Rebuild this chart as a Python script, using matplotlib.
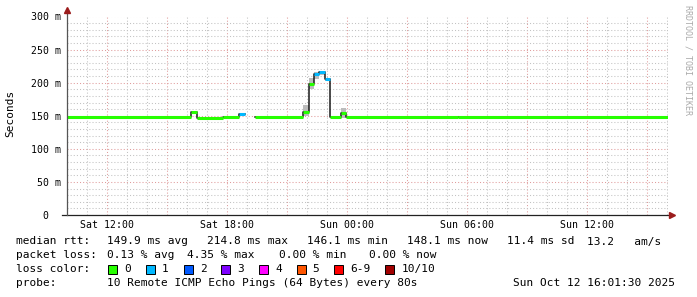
import matplotlib.pyplot as plt
import numpy as np
from matplotlib.patches import Rectangle
from matplotlib.lines import Line2D
from matplotlib.ticker import FixedLocator, FixedFormatter

plt.rcParams['font.family'] = ['DejaVu Sans Mono', 'DejaVu Sans']

# time in hours after Sat 10:01:30, one entry per consolidated step
step_start = [0.0, 6.175, 6.475, 7.8, 8.575, 8.9, 9.4, 11.775, 12.065,
              12.315, 12.6, 12.865, 13.125, 13.675, 13.935, 19.5]
step_end = 30.0
median_ms = [147.5, 155.0, 146.0, 147.5, 153.0, np.nan, 148.0, 155.0, 198.0,
             213.5, 215.5, 205.0, 147.5, 154.5, 147.5, 148.5]
loss_count = [0, 0, 0, 0, 1, 0, 0, 0, 0, 1, 1, 1, 0, 0, 0, 0]
smoke_lo = [np.nan, np.nan, np.nan, np.nan, np.nan, np.nan, np.nan, 150.0, 190.0,
            206.0, 212.0, 203.0, np.nan, 146.0, np.nan, np.nan]
smoke_hi = [np.nan, np.nan, np.nan, np.nan, np.nan, np.nan, np.nan, 167.0, 207.0,
            215.5, 217.0, 206.0, np.nan, 161.0, np.nan, np.nan]

xtick_hours = [1.975, 7.975, 13.975, 19.975, 25.975]
xtick_labels = ['Sat 12:00', 'Sat 18:00', 'Sun 00:00', 'Sun 06:00', 'Sun 12:00']
ytick_values = [0, 50, 100, 150, 200, 250, 300]
ytick_labels = ['0  ', '50 m', '100 m', '150 m', '200 m', '250 m', '300 m']

loss_labels = ['0', '1', '2', '3', '4', '5', '6-9', '10/10']
loss_colors = ['#26ff00', '#00b8ff', '#0059ff', '#7e00ff', '#ff00ff',
               '#ff5500', '#ff0000', '#a10000']

rtt_items = ['149.9 ms avg', '214.8 ms max', '146.1 ms min', '148.1 ms now',
             '11.4 ms sd', '13.2   am/s']
loss_items = ['0.13 % avg', '4.35 % max', '0.00 % min', '0.00 % now']
probe_text = '10 Remote ICMP Echo Pings (64 Bytes) every 80s'
stamp_text = 'Sun Oct 12 16:01:30 2025'

W, H = 697, 297


def fx(px):
    return px / W


def fy(py):
    return 1 - py / H


fig = plt.figure(figsize=(W / 100, H / 100), dpi=100)
ax = fig.add_axes([fx(67), fy(215), (668 - 67) / W, (215 - 16.5) / H])

starts = np.array(step_start)
ends = np.append(starts[1:], step_end)
med = np.array(median_ms)
lo = np.array(smoke_lo)
hi = np.array(smoke_hi)

# smoke
has = ~np.isnan(lo)
ax.bar(starts[has], hi[has] - lo[has], width=(ends - starts)[has], bottom=lo[has],
       align='edge', color='#bcbcbc', linewidth=0, zorder=2)

# black median line with verticals
ax.step(np.append(starts, step_end), np.append(med, med[-1]), where='post',
        color='#1a1a1a', lw=1.1, zorder=3)

# colored median by loss
ok = ~np.isnan(med)
ax.hlines(med[ok], starts[ok], ends[ok],
          colors=[loss_colors[l] for l in np.array(loss_count)[ok]],
          lw=2.2, zorder=4)

ax.set_xlim(0, step_end)
ax.set_ylim(0, 300)

major_x = [xtick_hours[0] + 3 * k for k in range(10)]
minor_x = [xtick_hours[0] - 1 + k for k in range(30) if (k - 1) % 3 != 0]
major_lab = []
for v in major_x:
    match = [lab for h, lab in zip(xtick_hours, xtick_labels) if abs(h - v) < 1e-6]
    major_lab.append(match[0] if match else '')
ax.xaxis.set_major_locator(FixedLocator(major_x))
ax.xaxis.set_major_formatter(FixedFormatter(major_lab))
ax.xaxis.set_minor_locator(FixedLocator(minor_x))
ax.yaxis.set_major_locator(FixedLocator(ytick_values))
ax.yaxis.set_major_formatter(FixedFormatter(ytick_labels))
ax.yaxis.set_minor_locator(FixedLocator([v for v in range(10, 300, 10) if v % 50]))

ax.grid(which='major', color='#e09c9c', lw=0.75, linestyle=(0, (1, 2)))
ax.grid(which='minor', color='#c2c2c2', lw=0.75, linestyle=(0, (1, 2)))
ax.set_axisbelow(True)
ax.tick_params(which='both', length=0, labelsize=7.1)
ax.tick_params(axis='y', pad=4.3)
ax.tick_params(axis='x', pad=3.5)
for s in ax.spines.values():
    s.set_visible(False)

# axes lines and arrows
fig.add_artist(Line2D([fx(62), fx(669)], [fy(215), fy(215)], color='#222222', lw=0.9))
fig.add_artist(Line2D([fx(67), fx(67)], [fy(215), fy(11)], color='#555555', lw=0.9))
fig.add_artist(Line2D([fx(672)], [fy(215)], marker='>', markersize=4.5,
                      color='#9b1c1c', linestyle='none'))
fig.add_artist(Line2D([fx(67)], [fy(9.5)], marker='^', markersize=4.5,
                      color='#9b1c1c', linestyle='none'))

fig.text(fx(10.5), fy(113.5), 'Seconds', rotation=90, ha='center', va='center', fontsize=8)
fig.text(fx(688), fy(5), 'RRDTOOL / TOBI OETIKER', rotation=270, ha='center', va='top',
         fontsize=6, color='#aaaaaa')

# legend rows
ts = dict(fontsize=8, va='center', ha='left')
fig.text(fx(16), fy(241.5), 'median rtt:', **ts)
for x, s in zip([107.3, 207.3, 307.3, 407.3, 507.3, 587.3], rtt_items):
    fig.text(fx(x), fy(241.5), s, **ts)
fig.text(fx(16), fy(255.3), 'packet loss:', **ts)
for x, s in zip([107.3, 187.3, 279.3, 369.3], loss_items):
    fig.text(fx(x), fy(255.3), s, **ts)
fig.text(fx(16), fy(269.2), 'loss color:', **ts)
bx = 108.3
for lab, col in zip(loss_labels, loss_colors):
    fig.add_artist(Rectangle((fx(bx), fy(273.5)), 9 / W, 9 / H, facecolor=col,
                             edgecolor='black', lw=0.7))
    fig.text(fx(bx + 16), fy(269.2), lab, **ts)
    bx += 16 + len(lab) * 6.67 + 15
fig.text(fx(16), fy(283), 'probe:', **ts)
fig.text(fx(107.3), fy(283), probe_text, **ts)
fig.text(fx(513.3), fy(283), stamp_text, **ts)

fig.savefig('out.png', dpi=100, facecolor='white')
